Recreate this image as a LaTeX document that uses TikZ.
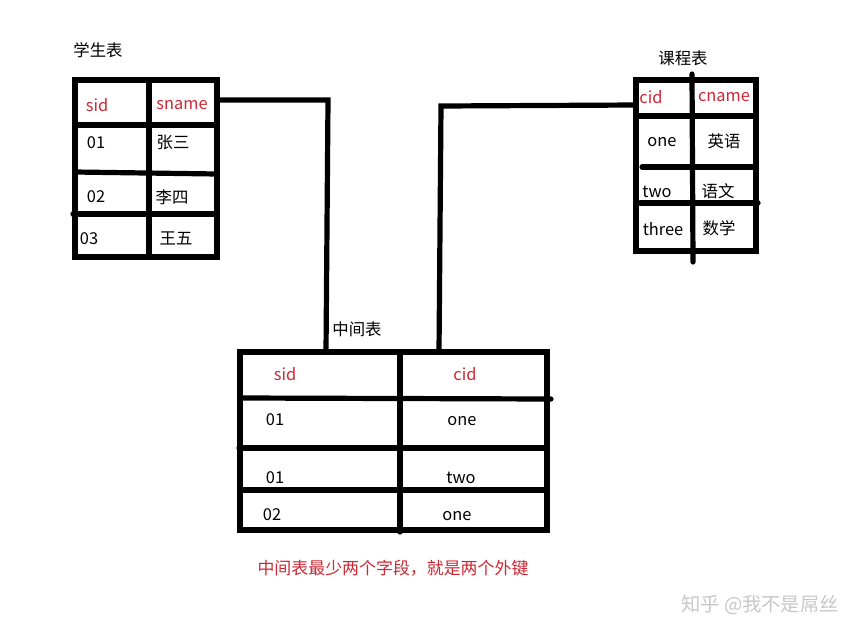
\documentclass[tikz,border=0pt]{standalone}
\usepackage{fontspec}
\setmainfont{Noto Sans CJK SC}
\definecolor{hred}{RGB}{205,40,52}
\definecolor{wm}{RGB}{200,200,200}
\begin{document}
\begin{tikzpicture}[x=0.75pt,y=-0.75pt,
  tl/.style={line width=3.9pt,line cap=round},
  txt/.style={font=\fontsize{12.3}{14}\selectfont,inner sep=0pt},
  hd/.style={txt,text=hred},
  lbl/.style={txt}]
\useasboundingbox[fill=white] (0,0) rectangle (863,640);
% ---------- student table ----------
\node[lbl] (stuT) at (98,50) {学生表};
\draw[tl] (75,80) rectangle (217,257);
\draw[tl] (149,80) -- (149,257);
\draw[tl] (75,125) -- (217,125);
\draw[tl] (75,172) -- (217,174);
\draw[tl] (73,214) -- (217,214);
\node[hd]  (s11) at (97,105) {sid};
\node[hd]  (s12) at (182,105) {sname};
\node[lbl] (s21) at (96,143) {01};
\node[lbl] (s22) at (173,142) {张三};
\node[lbl] (s31) at (96,197) {02};
\node[lbl] (s32) at (172,197) {李四};
\node[lbl] (s41) at (89,239) {03};
\node[lbl] (s42) at (176,238) {王五};
% ---------- course table ----------
\node[lbl] (crsT) at (683,58) {课程表};
\draw[tl] (636,80) rectangle (756,251);
\draw[tl] (692,74) -- (693,262);
\draw[tl] (636,116) -- (756,116);
\draw[tl] (642,167) -- (753,167);
\draw[tl] (640,203) -- (758,203);
\node[hd]  (c11) at (651,97) {cid};
\node[hd]  (c12) at (724,97) {cname};
\node[lbl] (c21) at (662,142) {one};
\node[lbl] (c22) at (724,141) {英语};
\node[lbl] (c31) at (657,192) {two};
\node[lbl] (c32) at (718,191) {语文};
\node[lbl] (c41) at (663,229) {three};
\node[lbl] (c42) at (719,228) {数学};
% ---------- middle table ----------
\node[lbl] (midT) at (357,329) {中间表};
\draw[tl] (240,352) rectangle (547,530);
\draw[tl] (400,352) -- (400,532);
\draw[tl] (242,398) -- (551,399);
\draw[tl] (239,448) -- (547,448);
\draw[tl] (240,490) -- (547,490);
\node[hd]  (m11) at (285,374) {sid};
\node[hd]  (m12) at (465,374) {cid};
\node[lbl] (m21) at (275,420) {01};
\node[lbl] (m22) at (462,421) {one};
\node[lbl] (m31) at (275,478) {01};
\node[lbl] (m32) at (461,478) {two};
\node[lbl] (m41) at (272,515) {02};
\node[lbl] (m42) at (457,516) {one};
% ---------- connectors ----------
\coordinate (sA) at (217,100);
\coordinate (mA) at (326,352);
\coordinate (cA) at (636,105);
\coordinate (mB) at (439,352);
\draw[tl,line cap=butt] (sA) -- (328,100) -- (mA);
\draw[tl,line cap=butt] (cA) -- (441,106) -- (mB);
% ---------- notes ----------
\node[txt,text=hred,font=\fontsize{12.7}{14}\selectfont] (note) at (393,568) {中间表最少两个字段，就是两个外键};
\node[txt,text=wm,font=\fontsize{14.5}{16}\selectfont] (wmk) at (760,605) {知乎 @我不是屌丝};
\end{tikzpicture}
\end{document}
